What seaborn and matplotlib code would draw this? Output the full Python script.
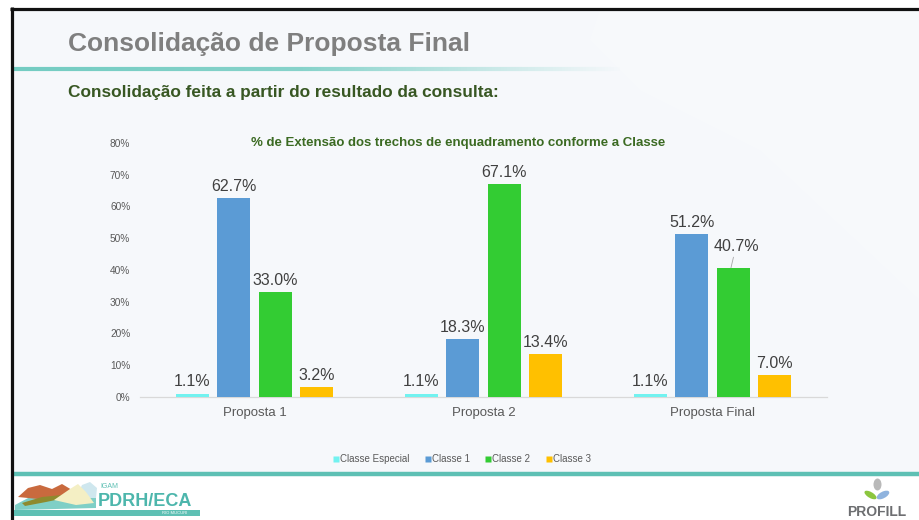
import numpy as np
import pandas as pd
import matplotlib
matplotlib.use("Agg")
import matplotlib.pyplot as plt
import seaborn as sns
from matplotlib.patches import Rectangle, Polygon, Ellipse
from matplotlib.lines import Line2D
from matplotlib.collections import LineCollection

# ---- data -------------------------------------------------------------
propostas = ["Proposta 1", "Proposta 2", "Proposta Final"]
classes = ["Classe Especial", "Classe 1", "Classe 2", "Classe 3"]
classe_especial = [1.1, 1.1, 1.1]
classe_1 = [62.7, 18.3, 51.2]
classe_2 = [33.0, 67.1, 40.7]
classe_3 = [3.2, 13.4, 7.0]
y_ticks = [0, 10, 20, 30, 40, 50, 60, 70, 80]

cores = ["#72F2F0", "#5B9BD5", "#33CC33", "#FFC000"]

series = [classe_especial, classe_1, classe_2, classe_3]
df = pd.DataFrame(
    [{"proposta": p, "classe": c, "valor": v}
     for c, vals in zip(classes, series)
     for p, v in zip(propostas, vals)]
)

# ---- figure / slide frame --------------------------------------------
W, H = 920, 520
sns.set_theme(style="white")
plt.rcParams["font.family"] = ["Liberation Sans", "DejaVu Sans"]

fig = plt.figure(figsize=(W / 100, H / 100), dpi=100, facecolor="white")


def fx(x):
    return x / W


def fy(y):
    return 1 - y / H


tf = fig.transFigure

# slide background
fig.patches.append(Rectangle((fx(12), fy(474)), fx(W - 12), (474 - 9) / H,
                             transform=tf, facecolor="#F6F8FB",
                             edgecolor="none", zorder=-10))
# faint lighter swoosh in the background
fig.patches.append(Polygon([(fx(600), fy(10)), (fx(920), fy(10)), (fx(920), fy(300)),
                            (fx(760), fy(150)), (fx(640), fy(90)), (fx(590), fy(40))],
                           closed=True, transform=tf,
                           facecolor="white", alpha=0.2, edgecolor="none", zorder=-9))

# black frame lines (top and left)
fig.add_artist(Line2D([fx(10), fx(920)], [fy(8.5), fy(8.5)], transform=tf,
                      color="#111111", lw=2.3, solid_capstyle="butt", zorder=5))
fig.add_artist(Line2D([fx(11.5), fx(11.5)], [fy(7), fy(520)], transform=tf,
                      color="#111111", lw=2.3, solid_capstyle="butt", zorder=5))

# teal rule under the slide title, fading to the right
xs = np.linspace(13, 620, 200)
segs = [[(fx(a), fy(69)), (fx(b), fy(69))] for a, b in zip(xs[:-1], xs[1:])]
alphas = np.clip(np.interp(xs[:-1], [13, 300, 620], [1.0, 0.85, 0.0]), 0, 1)
cols = [(0.45, 0.80, 0.76, a) for a in alphas]
fig.add_artist(LineCollection(segs, colors=cols, linewidths=3.0,
                              transform=tf, zorder=2))

# footer rule
fig.add_artist(Line2D([fx(13), fx(920)], [fy(474), fy(474)], transform=tf,
                      color="#5EC0B4", lw=3.2, solid_capstyle="butt", zorder=2))

# slide title and subtitle
fig.text(fx(68), fy(44), "Consolidação de Proposta Final", fontsize=19,
         fontweight="bold", color="#7F7F7F", ha="left", va="center")
fig.text(fx(68), fy(92), "Consolidação feita a partir do resultado da consulta:",
         fontsize=12.4, fontweight="bold", color="#385723", ha="left", va="center")

# ---- chart ------------------------------------------------------------
ax = fig.add_axes([fx(140), fy(397), (827 - 140) / W, (397 - 143) / H])
ax.set_zorder(3)
ax.set_facecolor("none")

sns.barplot(data=df, x="proposta", y="valor", hue="classe",
            order=propostas, hue_order=classes, palette=cores,
            saturation=1, width=0.725, gap=0.2, legend=False,
            errorbar=None, linewidth=0, ax=ax, zorder=3)

ax.set_ylim(0, 80)
ax.set_yticks(y_ticks)
ax.yaxis.set_major_formatter(lambda v, p: f"{v:.0f}%")
ax.set_xlabel("")
ax.set_ylabel("")
ax.tick_params(axis="y", length=0, pad=7, labelsize=7.3, labelcolor="#595959")
ax.tick_params(axis="x", length=0, pad=7, labelsize=9.5, labelcolor="#595959")
for s in ["top", "right", "left"]:
    ax.spines[s].set_visible(False)
ax.spines["bottom"].set_color("#D9D9D9")
ax.spines["bottom"].set_linewidth(0.9)
ax.grid(False)

# value labels; one label sits a little higher with a leader line
raised = {("Classe 2", "Proposta Final"): (4, 10)}
for cls, vals, cont in zip(classes, series, ax.containers):
    for prop, v, bar in zip(propostas, vals, cont.patches):
        cx = bar.get_x() + bar.get_width() / 2
        if (cls, prop) in raised:
            ax.annotate(f"{v:.1f}%", xy=(cx - 0.01, v), xytext=raised[(cls, prop)],
                        textcoords="offset points", ha="center", va="bottom",
                        fontsize=11.5, color="#404040",
                        arrowprops=dict(arrowstyle="-", color="#A6A6A6", lw=0.6,
                                        shrinkA=0, shrinkB=0, relpos=(0.45, 0.0)))
        else:
            ax.annotate(f"{v:.1f}%", xy=(cx, v), xytext=(0, 3),
                        textcoords="offset points", ha="center", va="bottom",
                        fontsize=11.5, color="#404040")

fig.text(fx(458), fy(143), "% de Extensão dos trechos de enquadramento conforme a Classe",
         fontsize=9.5, fontweight="bold", color="#3B6A22", ha="center", va="center")

handles = [Line2D([], [], marker="s", linestyle="none", markersize=4.4,
                  markerfacecolor=c, markeredgecolor="none") for c in cores]
fig.legend(handles, classes, loc="center", bbox_to_anchor=(fx(462), fy(459)),
           ncol=4, frameon=False, fontsize=7, labelcolor="#595959",
           handlelength=0.6, handletextpad=0.1, columnspacing=1.6)

# ---- footer logos -------------------------------------------------------


def poly(pts, color, z=6, alpha=1.0):
    fig.patches.append(Polygon([(fx(a), fy(b)) for a, b in pts], closed=True,
                               transform=tf, facecolor=color, edgecolor="none",
                               alpha=alpha, zorder=z))


poly([(15, 505), (30, 497), (50, 494), (70, 497), (88, 493), (96, 496),
      (96, 508), (15, 510)], "#7FCFC6")
poly([(76, 498), (82, 485), (90, 482), (97, 488), (96, 498)], "#CFE7EE")
poly([(18, 497), (28, 488), (40, 485), (52, 489), (62, 484), (72, 490),
      (66, 496), (38, 499)], "#C96A3E")
poly([(22, 503), (42, 497), (62, 495), (72, 491), (70, 497), (46, 502),
      (25, 506)], "#8E8A2E")
poly([(54, 500), (70, 489), (78, 484), (86, 492), (94, 503), (76, 505)], "#F4EFC4")
fig.patches.append(Rectangle((fx(14), fy(516)), fx(186), 6 / H, transform=tf,
                             facecolor="#5EC0B4", edgecolor="none", zorder=6))
fig.text(fx(100), fy(487), "IGAM", fontsize=5, color="#5EC0B4",
         ha="left", va="center", zorder=7)
fig.text(fx(98), fy(501), "PDRH/ECA", fontsize=13, fontweight="bold",
         color="#4DB6AC", ha="left", va="center", zorder=7)
fig.text(fx(175), fy(513), "RIO MUCURI", fontsize=3, color="white",
         ha="center", va="center", zorder=7)

fig.patches.append(Ellipse((fx(877.5), fy(484.5)), 8 / W, 12 / H, transform=tf,
                           facecolor="#B9B9B9", edgecolor="none", zorder=6))
fig.patches.append(Ellipse((fx(870.5), fy(495)), 8 / W, 10 / H, angle=35, transform=tf,
                           facecolor="#8CC63F", edgecolor="none", zorder=6))
fig.patches.append(Ellipse((fx(883), fy(495)), 9 / W, 10 / H, angle=-35, transform=tf,
                           facecolor="#8FB3DE", edgecolor="none", zorder=6))
fig.text(fx(877), fy(512), "PROFILL", fontsize=10, fontweight="bold",
         color="#6D6E71", ha="center", va="center", zorder=7)

fig.savefig("out.png", dpi=100, facecolor="white")
